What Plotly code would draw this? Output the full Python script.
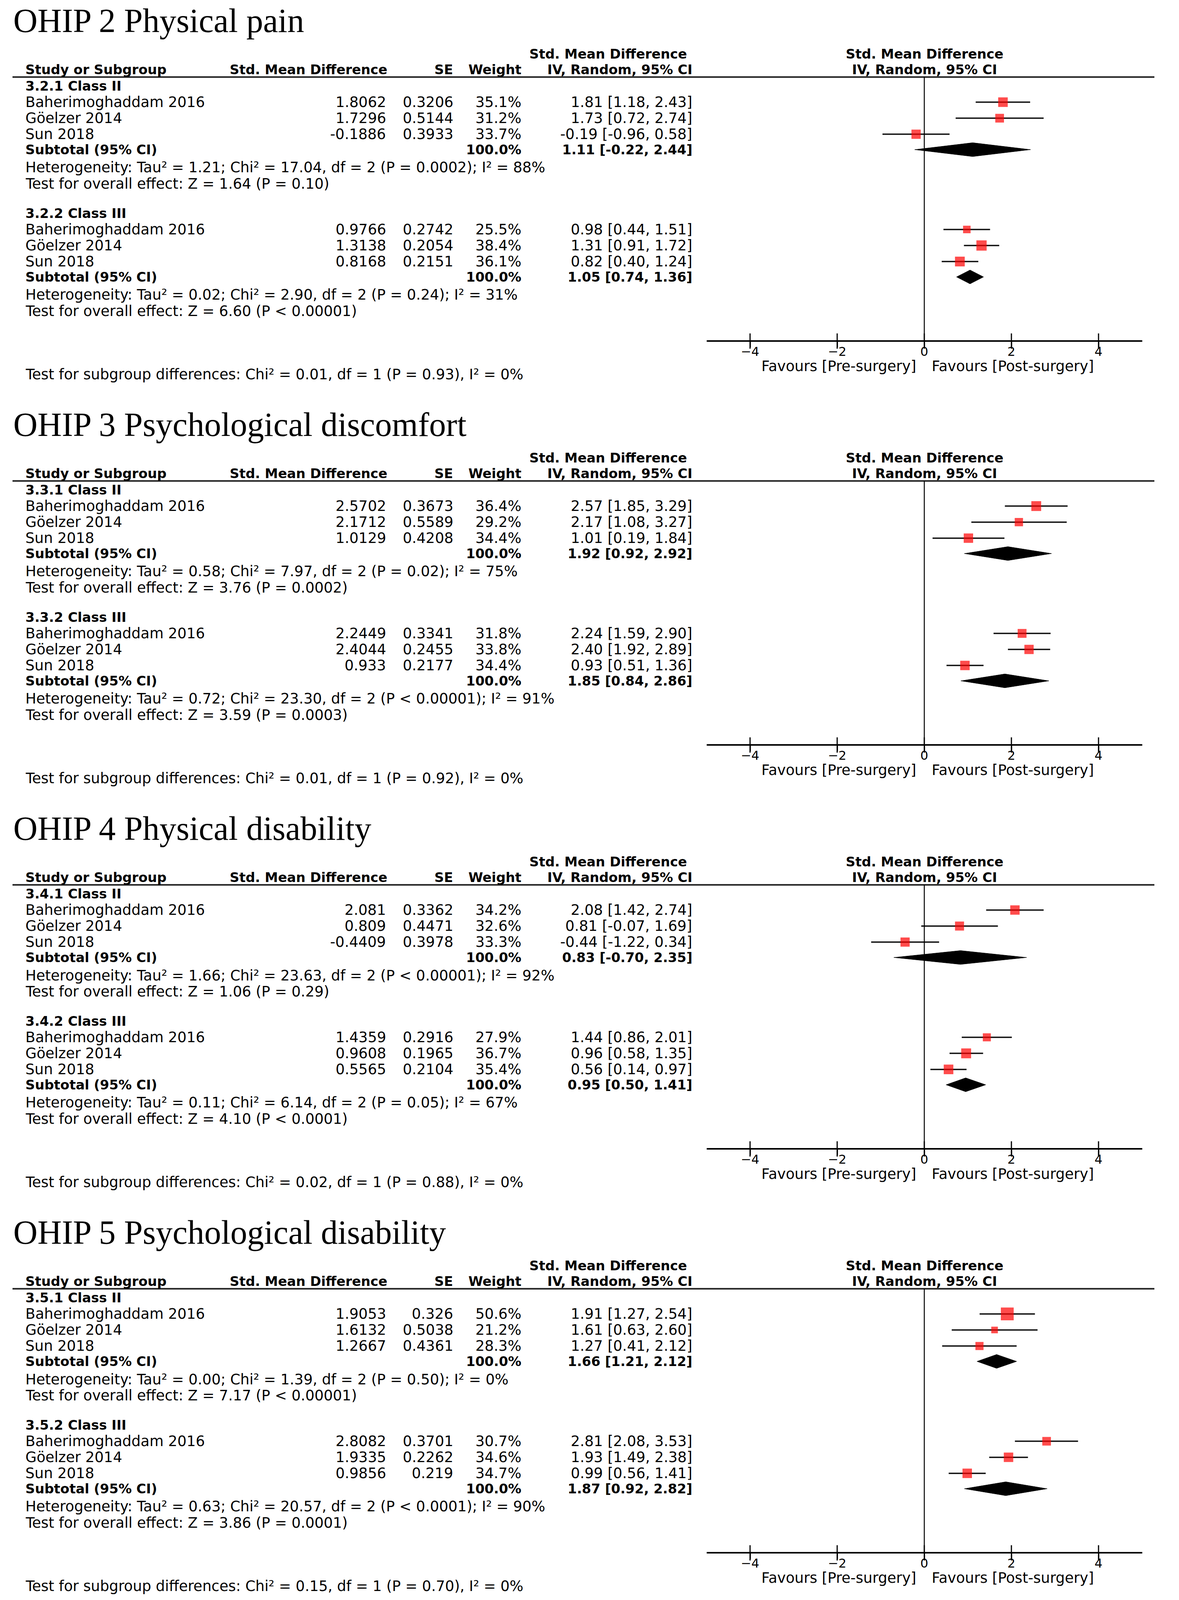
import plotly.graph_objects as go

W, H = 3018, 5090

# ---------------- data ----------------
titles = ["OHIP 2 Physical pain", "OHIP 3 Psychological discomfort",
          "OHIP 4 Physical disability", "OHIP 5 Psychological disability"]
group_labels = [["3.2.1 Class II", "3.2.2 Class III"],
                ["3.3.1 Class II", "3.3.2 Class III"],
                ["3.4.1 Class II", "3.4.2 Class III"],
                ["3.5.1 Class II", "3.5.2 Class III"]]
studies = ["Baherimoghaddam 2016", "Göelzer 2014", "Sun 2018"]

smd = [[[1.8062, 1.7296, -0.1886], [0.9766, 1.3138, 0.8168]],
       [[2.5702, 2.1712, 1.0129], [2.2449, 2.4044, 0.933]],
       [[2.081, 0.809, -0.4409], [1.4359, 0.9608, 0.5565]],
       [[1.9053, 1.6132, 1.2667], [2.8082, 1.9335, 0.9856]]]
se = [[[0.3206, 0.5144, 0.3933], [0.2742, 0.2054, 0.2151]],
      [[0.3673, 0.5589, 0.4208], [0.3341, 0.2455, 0.2177]],
      [[0.3362, 0.4471, 0.3978], [0.2916, 0.1965, 0.2104]],
      [[0.326, 0.5038, 0.4361], [0.3701, 0.2262, 0.219]]]
weight = [[[35.1, 31.2, 33.7], [25.5, 38.4, 36.1]],
          [[36.4, 29.2, 34.4], [31.8, 33.8, 34.4]],
          [[34.2, 32.6, 33.3], [27.9, 36.7, 35.4]],
          [[50.6, 21.2, 28.3], [30.7, 34.6, 34.7]]]
ci_est = [[[1.81, 1.73, -0.19], [0.98, 1.31, 0.82]],
          [[2.57, 2.17, 1.01], [2.24, 2.40, 0.93]],
          [[2.08, 0.81, -0.44], [1.44, 0.96, 0.56]],
          [[1.91, 1.61, 1.27], [2.81, 1.93, 0.99]]]
ci_lo = [[[1.18, 0.72, -0.96], [0.44, 0.91, 0.40]],
         [[1.85, 1.08, 0.19], [1.59, 1.92, 0.51]],
         [[1.42, -0.07, -1.22], [0.86, 0.58, 0.14]],
         [[1.27, 0.63, 0.41], [2.08, 1.49, 0.56]]]
ci_hi = [[[2.43, 2.74, 0.58], [1.51, 1.72, 1.24]],
         [[3.29, 3.27, 1.84], [2.90, 2.89, 1.36]],
         [[2.74, 1.69, 0.34], [2.01, 1.35, 0.97]],
         [[2.54, 2.60, 2.12], [3.53, 2.38, 1.41]]]
sub_est = [[1.11, 1.05], [1.92, 1.85], [0.83, 0.95], [1.66, 1.87]]
sub_lo = [[-0.22, 0.74], [0.92, 0.84], [-0.70, 0.50], [1.21, 0.92]]
sub_hi = [[2.44, 1.36], [2.92, 2.86], [2.35, 1.41], [2.12, 2.82]]
tau2 = [["1.21", "0.02"], ["0.58", "0.72"], ["1.66", "0.11"], ["0.00", "0.63"]]
chi2 = [["17.04", "2.90"], ["7.97", "23.30"], ["23.63", "6.14"], ["1.39", "20.57"]]
het_p = [["P = 0.0002", "P = 0.24"], ["P = 0.02", "P < 0.00001"],
         ["P < 0.00001", "P = 0.05"], ["P = 0.50", "P < 0.0001"]]
i2 = [["88", "31"], ["75", "91"], ["92", "67"], ["0", "90"]]
z_val = [["1.64", "6.60"], ["3.76", "3.59"], ["1.06", "4.10"], ["7.17", "3.86"]]
z_p = [["P = 0.10", "P < 0.00001"], ["P = 0.0002", "P = 0.0003"],
       ["P = 0.29", "P < 0.0001"], ["P < 0.00001", "P = 0.0001"]]
sg_chi2 = ["0.01", "0.01", "0.02", "0.15"]
sg_p = ["P = 0.93", "P = 0.92", "P = 0.88", "P = 0.70"]
sg_i2 = ["0", "0", "0", "0"]
tick_vals = [-4, -2, 0, 2, 4]
left_label = "Favours [Pre-surgery]"
right_label = "Favours [Post-surgery]"

# ---------------- layout constants (reference pixel units) ----------------
PANEL_STEP = 1285
PANEL_SPAN = 1235
FONT = "DejaVu Sans"
FS = 37
FSB = 34
FS_TICK = 32
TITLE_FONT = "Liberation Serif"
TITLE_FS = 86
X_NAME, X_SMD, X_SE, X_WT, X_CI = 63, 990, 1162, 1337, 1774
PLOT_L, PLOT_R = 1808.5, 2923.5
LINE_L, LINE_R = 32, 2955
Y_TITLE = 66
Y_H1, Y_H2, Y_LINE = 171, 221, 245
Y_GROUP = [273, 678]
ROW_STEP = 51
Y_FIRST = 52
Y_SUB = 203
Y_HET = 260
Y_TEST = 312
Y_AXIS = 1085
Y_FAV = 1165
Y_SG = 1191
DIAMOND_HALF = 22


def px(v):
    return v / W


fig = go.Figure()
ann = []
shapes = []
layout_axes = {}


def text(xp, y, yref, s, anchor="left", bold=False, size=None, family=FONT, xref="paper"):
    if size is None:
        size = FSB if bold else FS
    ann.append(dict(x=xp, y=y, xref=xref, yref=yref, text=f"<b>{s}</b>" if bold else s,
                    showarrow=False, xanchor=anchor, yanchor="middle",
                    font=dict(family=family, size=size, color="black")))


for p in range(4):
    top = p * PANEL_STEP
    xa = f"xaxis{p + 1}" if p else "xaxis"
    ya = f"yaxis{p + 1}" if p else "yaxis"
    xr = f"x{p + 1}" if p else "x"
    yr = f"y{p + 1}" if p else "y"
    y_dom = [1 - (top + PANEL_SPAN) / H, 1 - top / H]
    axis_pos = 1 - (top + Y_AXIS) / H
    layout_axes[xa] = dict(domain=[px(PLOT_L), px(PLOT_R)], range=[-5, 5], anchor="free",
                           position=axis_pos, showline=True, linecolor="black", linewidth=4,
                           tickvals=tick_vals, ticks="outside", ticklen=14, tickwidth=3,
                           tickcolor="black", ticklabelstandoff=-17,
                           showgrid=False, zeroline=False,
                           tickfont=dict(family=FONT, size=FS_TICK, color="black"))
    layout_axes[ya] = dict(domain=y_dom, range=[PANEL_SPAN, 0], visible=False,
                           showgrid=False, zeroline=False, anchor=xr)

    text(px(X_NAME - 31), Y_TITLE, yr, titles[p], family=TITLE_FONT, size=TITLE_FS)
    text(px(1760), Y_H1, yr, "Std. Mean Difference", anchor="right", bold=True)
    text(px(X_NAME), Y_H2, yr, "Study or Subgroup", bold=True)
    text(px(X_SMD + 3), Y_H2, yr, "Std. Mean Difference", anchor="right", bold=True)
    text(px(X_SE), Y_H2, yr, "SE", anchor="right", bold=True)
    text(px(X_WT), Y_H2, yr, "Weight", anchor="right", bold=True)
    text(px(X_CI), Y_H2, yr, "IV, Random, 95% CI", anchor="right", bold=True)
    text(0, Y_H1, yr, "Std. Mean Difference", anchor="center", bold=True, xref=xr)
    text(0, Y_H2, yr, "IV, Random, 95% CI", anchor="center", bold=True, xref=xr)
    shapes.append(dict(type="line", xref="paper", yref=yr, x0=px(LINE_L), x1=px(LINE_R),
                       y0=Y_LINE, y1=Y_LINE, line=dict(color="#222", width=4)))
    shapes.append(dict(type="line", xref=xr, yref=yr, x0=0, x1=0, y0=Y_LINE, y1=Y_AXIS,
                       line=dict(color="black", width=2.5)))

    for g in range(2):
        gy = Y_GROUP[g]
        text(px(X_NAME), gy, yr, group_labels[p][g], bold=True)
        rows = [gy + Y_FIRST + ROW_STEP * i for i in range(3)]
        for i in range(3):
            text(px(X_NAME), rows[i], yr, studies[i])
            text(px(X_SMD), rows[i], yr, repr(smd[p][g][i]), anchor="right")
            text(px(X_SE), rows[i], yr, repr(se[p][g][i]), anchor="right")
            text(px(X_WT), rows[i], yr, f"{weight[p][g][i]:.1f}%", anchor="right")
            text(px(X_CI), rows[i], yr,
                 f"{ci_est[p][g][i]:.2f} [{ci_lo[p][g][i]:.2f}, {ci_hi[p][g][i]:.2f}]",
                 anchor="right")
        ys = gy + Y_SUB
        text(px(X_NAME), ys, yr, "Subtotal (95% CI)", bold=True)
        text(px(X_WT), ys, yr, "100.0%", anchor="right", bold=True)
        text(px(X_CI), ys, yr,
             f"{sub_est[p][g]:.2f} [{sub_lo[p][g]:.2f}, {sub_hi[p][g]:.2f}]",
             anchor="right", bold=True)
        text(px(X_NAME), gy + Y_HET, yr,
             f"Heterogeneity: Tau² = {tau2[p][g]}; Chi² = {chi2[p][g]}, "
             f"df = 2 ({het_p[p][g]}); I² = {i2[p][g]}%")
        text(px(X_NAME), gy + Y_TEST, yr,
             f"Test for overall effect: Z = {z_val[p][g]} ({z_p[p][g]})")

        fig.add_trace(go.Scatter(
            x=smd[p][g], y=rows, xaxis=xr, yaxis=yr, mode="markers",
            marker=dict(symbol="square", color="#ff0000",
                        size=[5.5 + 0.54 * w for w in weight[p][g]], line=dict(width=0)),
            error_x=dict(type="data", symmetric=False,
                         array=[h - e for h, e in zip(ci_hi[p][g], smd[p][g])],
                         arrayminus=[e - l for e, l in zip(smd[p][g], ci_lo[p][g])],
                         color="#111", thickness=3.5, width=0),
            showlegend=False, hoverinfo="skip"))
        fig.add_trace(go.Scatter(
            x=[sub_lo[p][g], sub_est[p][g], sub_hi[p][g], sub_est[p][g], sub_lo[p][g]],
            y=[ys, ys - DIAMOND_HALF, ys, ys + DIAMOND_HALF, ys],
            xaxis=xr, yaxis=yr, mode="lines", fill="toself", fillcolor="black",
            line=dict(color="black", width=1), showlegend=False, hoverinfo="skip"))

    fig.add_trace(go.Scatter(
        x=tick_vals, y=[Y_AXIS] * len(tick_vals), xaxis=xr, yaxis=yr, mode="markers",
        marker=dict(symbol="line-ns", size=28, line=dict(color="black", width=3)),
        showlegend=False, hoverinfo="skip", cliponaxis=False))

    text(0, Y_FAV, yr, left_label, anchor="right", xref=xr)
    ann[-1]["xshift"] = -18
    text(0, Y_FAV, yr, right_label, anchor="left", xref=xr)
    ann[-1]["xshift"] = 17
    text(px(X_NAME), Y_SG, yr,
         f"Test for subgroup differences: Chi² = {sg_chi2[p]}, df = 1 ({sg_p[p]}), "
         f"I² = {sg_i2[p]}%")

fig.update_layout(width=W, height=H, margin=dict(l=0, r=0, t=0, b=0),
                  paper_bgcolor="white", plot_bgcolor="white",
                  annotations=ann, shapes=shapes, **layout_axes)

# The layout is fully relative (paper fractions / axis domains), so if the
# browser viewport is shorter than the requested height, fit the figure to it.
post = ("document.documentElement.style.margin='0';document.body.style.margin='0';"
        "document.body.style.overflow='hidden';"
        "var gd=document.getElementById('{plot_id}');"
        "var vh=window.innerHeight;"
        "if(vh && vh < %d){Plotly.relayout(gd,{height:vh});}" % H)
fig.write_html("out.html", post_script=post, config={"displayModeBar": False})
